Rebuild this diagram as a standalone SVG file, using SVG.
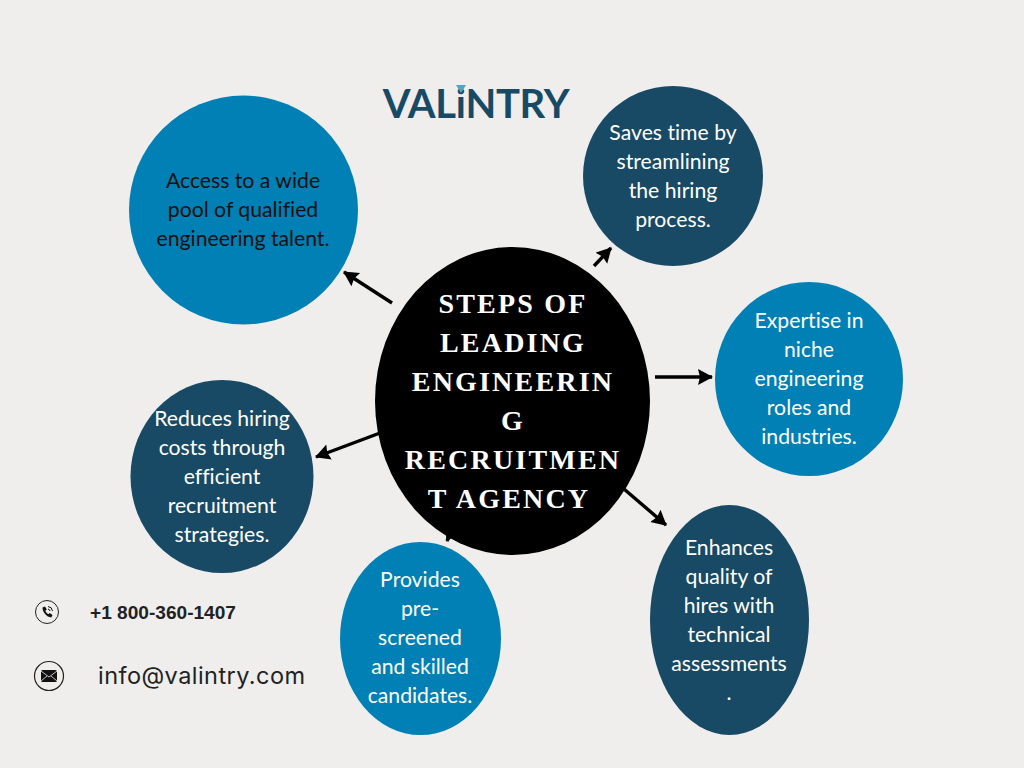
<svg xmlns="http://www.w3.org/2000/svg" width="1024" height="768" viewBox="0 0 1024 768">
<style>
.b{font:400 21.2px Lato,"Liberation Sans",sans-serif;fill:#111;text-anchor:middle;font-variant-ligatures:none}
.w{font:400 21.2px Lato,"Liberation Sans",sans-serif;fill:#fff;text-anchor:middle;font-variant-ligatures:none}
.t{font:700 28px "Liberation Serif",serif;fill:#fff;text-anchor:middle;letter-spacing:2.2px}
.c{stroke:#000;stroke-width:3.4;fill:none;marker-end:url(#a)}
.blue{fill:#0080b5}.navy{fill:#184a66}
</style>
<defs><marker id="a" markerUnits="userSpaceOnUse" markerWidth="18" markerHeight="18" refX="14" refY="8" orient="auto"><path d="M0 0L15 8L0 16L2 8Z" fill="#000"/></marker></defs>
<rect width="1024" height="768" fill="#efeeed"/>
<g id="connectors">
<path class="c" d="M392 303L344 272"/>
<path class="c" d="M594 266L611 248"/>
<path class="c" d="M655 377L712 377"/>
<path class="c" d="M624 489L666 525"/>
<path class="c" d="M380 433L316 457"/>
<path class="c" d="M456 520L447 541"/>
</g>
<g id="logo">
<text x="476" y="118" style="font:700 40px Lato,sans-serif;fill:#184a66;letter-spacing:-.3px" text-anchor="middle">VALiNTRY</text>
<path d="M456 85L466 85L461 93Z" fill="#4ea6c6"/>
</g>
<g id="center"><ellipse cx="512.500" cy="401" rx="137.500" ry="154" fill="#000"/>
<text class="t" x="513" y="313">STEPS OF</text>
<text class="t" x="513" y="352">LEADING</text>
<text class="t" x="513" y="391">ENGINEERIN</text>
<text class="t" x="513" y="430">G</text>
<text class="t" x="513" y="469">RECRUITMEN</text>
<text class="t" x="509" y="508">T AGENCY</text></g>
<g id="n1"><circle class="blue" cx="243.500" cy="210" r="114.500"/>
<text class="b" x="243" y="188">Access to a wide</text><text class="b" x="243" y="217">pool of qualified</text><text class="b" x="243" y="246">engineering talent.</text></g>
<g id="n2"><circle class="navy" cx="673" cy="176" r="90"/>
<text class="w" x="673" y="140">Saves time by</text><text class="w" x="673" y="169">streamlining</text><text class="w" x="673" y="198">the hiring</text><text class="w" x="673" y="227">process.</text></g>
<g id="n3"><ellipse class="blue" cx="809" cy="379" rx="94" ry="97"/>
<text class="w" x="809" y="328">Expertise in</text><text class="w" x="809" y="357">niche</text><text class="w" x="809" y="386">engineering</text><text class="w" x="809" y="415">roles and</text><text class="w" x="809" y="444">industries.</text></g>
<g id="n4"><ellipse class="navy" cx="729.500" cy="620" rx="79.500" ry="115"/>
<text class="w" x="729" y="555">Enhances</text><text class="w" x="729" y="584">quality of</text><text class="w" x="729" y="613">hires with</text><text class="w" x="729" y="642">technical</text><text class="w" x="729" y="671">assessments</text><text class="w" x="729" y="700">.</text></g>
<g id="n5"><ellipse class="blue" cx="420.500" cy="638.500" rx="80.500" ry="96.500"/>
<text class="w" x="420" y="587">Provides</text><text class="w" x="420" y="616">pre-</text><text class="w" x="420" y="645">screened</text><text class="w" x="420" y="674">and skilled</text><text class="w" x="420" y="703">candidates.</text></g>
<g id="n6"><ellipse class="navy" cx="222" cy="476.500" rx="91.500" ry="96.500"/>
<text class="w" x="222" y="426">Reduces hiring</text><text class="w" x="222" y="455">costs through</text><text class="w" x="222" y="484">efficient</text><text class="w" x="222" y="513">recruitment</text><text class="w" x="222" y="542">strategies.</text></g>
<g id="phone">
<circle cx="47" cy="612" r="11.500" fill="none" stroke="#222" stroke-width="1"/>
<path d="M42.500 607.500l2.500-1 1.800 3-1.500 1.300c.6 1.500 1.600 2.700 3 3.500l1.400-1.300 2.800 2-1.200 2.400c-4.800-.3-8.800-5.200-8.800-9.900Z" fill="#111"/>
<path d="M48 606.500a5 5 0 0 1 4.500 4.500M48 609a2.500 2.500 0 0 1 2 2" fill="none" stroke="#111" stroke-width="1"/>
<text x="90" y="619" style="font:700 19.100px 'Liberation Sans',sans-serif;fill:#222">+1 800-360-1407</text>
</g>
<g id="email">
<circle cx="49" cy="676" r="14.500" fill="none" stroke="#222" stroke-width="1.200"/>
<rect x="41" y="670" width="16" height="12" rx="1.500" fill="#111"/>
<path d="M41 671l8 6 8-6M41 681l6-5M57 681l-6-5" fill="none" stroke="#efeeed" stroke-width=".8"/>
<text x="98" y="684" style="font:400 23.500px Inter,'Open Sans',sans-serif;fill:#222;letter-spacing:.45px">info@valintry.com</text>
</g>
</svg>
